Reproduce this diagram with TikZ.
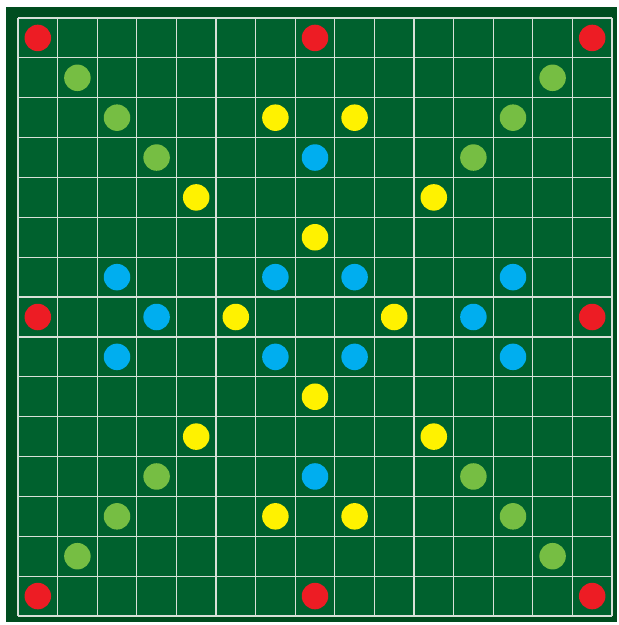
\documentclass[tikz,border=0pt]{standalone}
\definecolor{bordergreen}{HTML}{004D1F}
\definecolor{boardgreen}{HTML}{00612E}
\definecolor{gridline}{HTML}{D8E0D8}
\definecolor{cred}{HTML}{ED1C24}
\definecolor{cgreen}{HTML}{76BE43}
\definecolor{cyellow}{HTML}{FFF200}
\definecolor{cblue}{HTML}{00AEEF}
\begin{document}
\begin{tikzpicture}[x=1pt,y=-1pt,
  dot/.style={circle,inner sep=0pt,minimum size=26.5pt,draw=none}]
\useasboundingbox (0,0) rectangle (619,625);
\fill[white] (0,0) rectangle (619,625);
\fill[bordergreen] (6,7) rectangle (617,622);
\fill[boardgreen] (18,18) rectangle (612,616);
\pgfmathsetmacro{\cw}{594/15}
\pgfmathsetmacro{\ch}{598/15}
\foreach \i in {0,...,15}{
  \draw[gridline,line width=1.2pt] ({18+\i*\cw},18) -- ({18+\i*\cw},616);
  \draw[gridline,line width=1.2pt] (18,{18+\i*\ch}) -- (612,{18+\i*\ch});
}
\newcommand{\spot}[3]{\node[dot,fill=#3] (d-#1-#2) at ({18+(#1+0.5)*\cw},{18+(#2+0.5)*\ch}) {};}
% red
\foreach \c/\r in {0/0,7/0,14/0,0/7,14/7,0/14,7/14,14/14}{\spot{\c}{\r}{cred}}
% light green
\foreach \c/\r in {1/1,13/1,2/2,12/2,3/3,11/3,3/11,11/11,2/12,12/12,1/13,13/13}{\spot{\c}{\r}{cgreen}}
% yellow
\foreach \c/\r in {6/2,8/2,4/4,10/4,7/5,5/7,9/7,7/9,4/10,10/10,6/12,8/12}{\spot{\c}{\r}{cyellow}}
% blue
\foreach \c/\r in {7/3,2/6,6/6,8/6,12/6,3/7,11/7,2/8,6/8,8/8,12/8,7/11}{\spot{\c}{\r}{cblue}}
\end{tikzpicture}
\end{document}
